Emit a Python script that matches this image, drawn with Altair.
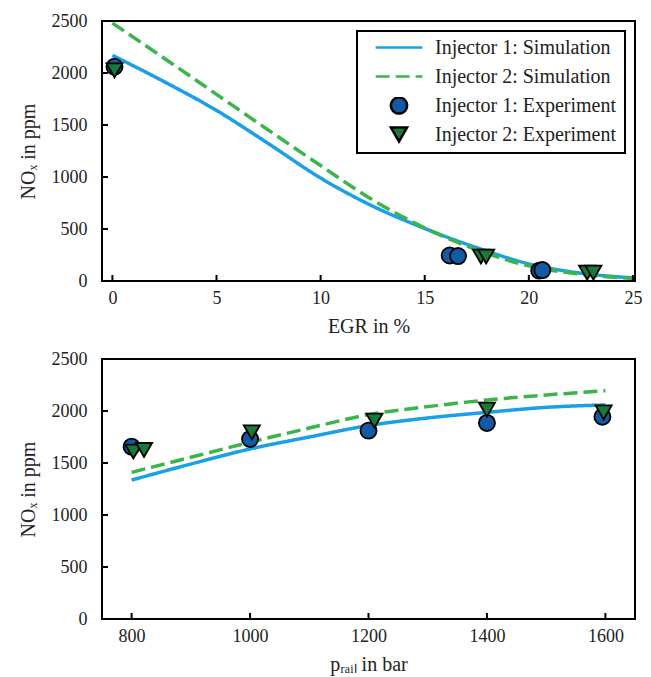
import altair as alt
import pandas as pd

SERIES = ["Injector 1: Simulation", "Injector 2: Simulation",
          "Injector 1: Experiment", "Injector 2: Experiment"]

# ---- top panel: EGR sweep ----
egr_sim = [0, 2.5, 5, 7.5, 10, 12.5, 15, 17.5, 20, 22.5, 25]
nox_egr_sim_inj1 = [2170, 1915, 1640, 1320, 990, 720, 505, 320, 165, 75, 30]
nox_egr_sim_inj2 = [2480, 2140, 1795, 1450, 1110, 780, 510, 300, 145, 65, 25]

egr_exp_inj1 = [0.1, 16.2, 16.6, 20.5, 20.65]
nox_egr_exp_inj1 = [2060, 245, 240, 100, 105]
egr_exp_inj2 = [0.1, 17.7, 17.95, 22.8, 23.1]
nox_egr_exp_inj2 = [2025, 235, 235, 80, 80]

# ---- bottom panel: rail pressure sweep ----
rail_sim = [800, 900, 1000, 1100, 1200, 1300, 1400, 1500, 1600]
nox_rail_sim_inj1 = [1336, 1490, 1635, 1750, 1860, 1933, 1987, 2035, 2058]
nox_rail_sim_inj2 = [1410, 1555, 1700, 1836, 1965, 2042, 2106, 2154, 2195]

rail_exp_inj1 = [800, 1000, 1200, 1400, 1595]
nox_rail_exp_inj1 = [1657, 1731, 1811, 1885, 1945]
rail_exp_inj2 = [803, 821, 1003, 1210, 1400, 1597]
nox_rail_exp_inj2 = [1610, 1625, 1795, 1907, 2013, 1987]

egr_ticks = [0, 5, 10, 15, 20, 25]
rail_ticks = [800, 1000, 1200, 1400, 1600]
nox_ticks = [0, 500, 1000, 1500, 2000, 2500]

BLUE = "#1aa0e6"
GREEN = "#3ab54a"
DBLUE = "#125aa3"
DGREEN = "#177a3a"
FONT = "Liberation Serif"
LINE_PATH = "M-2.9,0L2.9,0"


def frame(xs, ys, name):
    return pd.DataFrame({"x": xs, "y": ys, "s": name})


def panel(sim1, sim2, exp1, exp2, xdom, xticks, xtitle, show_legend):
    sim_df = pd.concat([frame(*sim1, SERIES[0]), frame(*sim2, SERIES[1])])
    exp_df = pd.concat([frame(*exp1, SERIES[2]), frame(*exp2, SERIES[3])])
    H = 260
    if show_legend:
        legend = alt.Legend(title=None, orient="top-right", offset=10,
                            clipHeight=17, labelOffset=26, symbolOffset=24)
    else:
        legend = None
    x = alt.X("x:Q", scale=alt.Scale(domain=xdom, nice=False, zero=False),
              axis=alt.Axis(values=xticks, title=xtitle, format="d"))
    y = alt.Y("y:Q", scale=alt.Scale(domain=[0, 2500], nice=False),
              axis=alt.Axis(values=nox_ticks, title="NOₓ in ppm", format="d"))
    stroke = alt.Stroke("s:N", scale=alt.Scale(domain=SERIES, range=[BLUE, GREEN, "#000000", "#000000"]),
                        legend=legend)
    dash = alt.StrokeDash("s:N", scale=alt.Scale(domain=SERIES, range=[[1, 0], [14, 6], [1, 0], [1, 0]]),
                          legend=legend)
    fill = alt.Fill("s:N", scale=alt.Scale(domain=SERIES, range=["transparent", "transparent", DBLUE, DGREEN]),
                    legend=legend)
    shape = alt.Shape("s:N", scale=alt.Scale(domain=SERIES,
                                             range=[LINE_PATH, LINE_PATH, "circle", "triangle-down"]),
                      legend=legend)
    lines = alt.Chart(sim_df).mark_line(strokeWidth=3.5, interpolate="monotone").encode(
        x=x, y=y, stroke=stroke, strokeDash=dash)
    points = alt.Chart(exp_df).mark_point(size=260, strokeWidth=1.8, opacity=1).encode(
        x=x, y=y, stroke=stroke, fill=fill, shape=shape)
    xt = alt.Chart(pd.DataFrame({"x": xticks})).mark_rule(color="black", strokeWidth=2).encode(
        x=x, y=alt.value(H), y2=alt.value(H - 6))
    yt = alt.Chart(pd.DataFrame({"y": nox_ticks})).mark_rule(color="black", strokeWidth=2).encode(
        y=y, x=alt.value(0), x2=alt.value(6))
    return alt.layer(lines, xt, yt, points).properties(width=533, height=H)


top = panel((egr_sim, nox_egr_sim_inj1), (egr_sim, nox_egr_sim_inj2),
            (egr_exp_inj1, nox_egr_exp_inj1), (egr_exp_inj2, nox_egr_exp_inj2),
            [-0.5, 25.1], egr_ticks, "EGR in %", True)
bottom = panel((rail_sim, nox_rail_sim_inj1), (rail_sim, nox_rail_sim_inj2),
               (rail_exp_inj1, nox_rail_exp_inj1), (rail_exp_inj2, nox_rail_exp_inj2),
               [750, 1650], rail_ticks, "pᵣₐᵢₗ in bar", False)

chart = alt.vconcat(top, bottom, spacing=12).resolve_scale(
    stroke="independent", fill="independent", shape="independent", strokeDash="independent"
).resolve_legend(
    stroke="independent", fill="independent", shape="independent", strokeDash="independent"
).properties(
    padding={"left": 17, "top": 11, "right": 5, "bottom": 5},
    background="white",
).configure_view(
    stroke="black", strokeWidth=2
).configure_axis(
    domain=False, ticks=False, grid=False,
    labelFont=FONT, labelFontSize=18, labelColor="#222222",
    titleFont=FONT, titleFontSize=20, titleFontWeight="normal", titleColor="#222222",
    labelFlush=False, labelOverlap=False,
).configure_axisX(
    labelPadding=8, titlePadding=9,
).configure_axisY(
    labelPadding=15, titlePadding=13,
).configure_legend(
    strokeColor="black", strokeWidth=2, fillColor="white", padding=8, cornerRadius=0,
    labelFont=FONT, labelFontSize=20, labelColor="#222222",
    symbolSize=260, symbolStrokeWidth=2.5, rowPadding=8, labelLimit=400,
)

chart.save("out.html", embed_options={"renderer": "svg", "actions": False})
